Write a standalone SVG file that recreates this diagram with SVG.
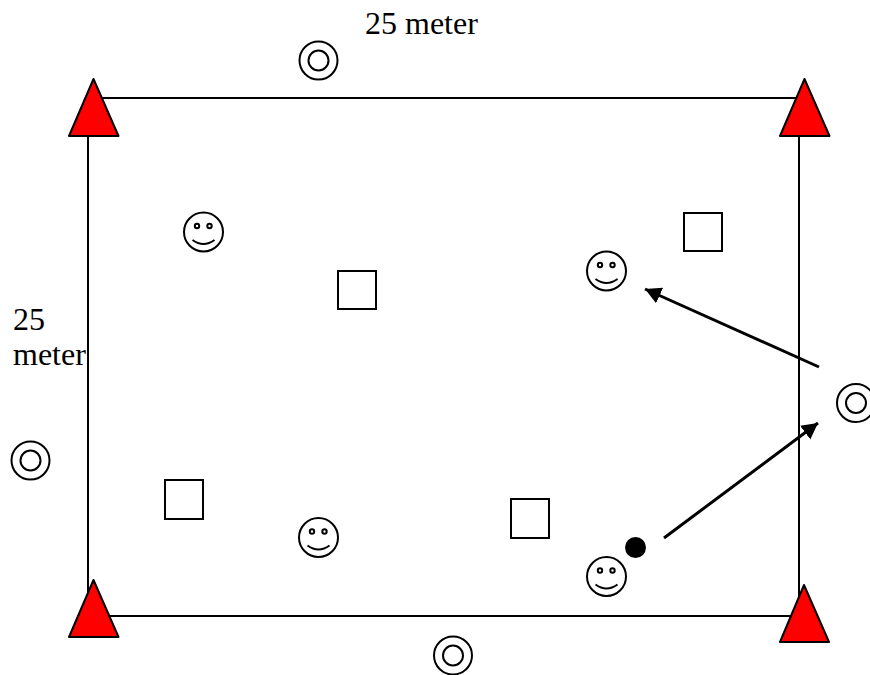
<svg xmlns="http://www.w3.org/2000/svg" width="870" height="675" viewBox="0 0 870 675">
<defs>
<style>
.o{fill:none;stroke:#000;stroke-width:2}
.e{fill:none;stroke:#000;stroke-width:2}
.t{fill:#f00;stroke:#000;stroke-width:2;stroke-linejoin:round}
.s{fill:#fff;stroke:#000;stroke-width:2}
.a{fill:none;stroke:#000;stroke-width:3}
text{font-family:"Liberation Serif","Times New Roman",serif;font-size:32px;fill:#000}
</style>
<g id="smile"><circle class="o" r="19.500"/><circle class="e" cx="-6.500" cy="-6" r="2.200"/><circle class="e" cx="6" cy="-6" r="2.200"/><path class="o" d="M-11 8Q0 16 11 8"/></g>
<g id="target"><circle class="o" r="19"/><circle class="o" r="10"/></g>
<marker id="ah" markerUnits="userSpaceOnUse" markerWidth="17" markerHeight="18" refX="16" refY="8.500" orient="auto"><path d="M0 0L16 8.500L0 17Z" fill="#000"/></marker>
</defs>
<g id="connectors">
<path class="o" d="M88 98H799V616H88Z"/>
<path class="a" d="M819 367L645 289" marker-end="url(#ah)"/>
<path class="a" d="M664 538L818 423" marker-end="url(#ah)"/>
</g>
<g id="tri-tl"><path class="t" d="M93.500 79L118.500 136H69Z"/></g>
<g id="tri-tr"><path class="t" d="M804.500 79L829.500 136H780Z"/></g>
<g id="tri-bl"><path class="t" d="M93.500 580L118.500 637H69Z"/></g>
<g id="tri-br"><path class="t" d="M804 585L829 642H780Z"/></g>
<g id="target-top"><use href="#target" x="318.500" y="60.500"/></g>
<g id="target-right"><use href="#target" x="856" y="403"/></g>
<g id="target-left"><use href="#target" x="30.500" y="460.500"/></g>
<g id="target-bottom"><use href="#target" x="453" y="655.500"/></g>
<g id="smile-1"><use href="#smile" x="203.500" y="232"/></g>
<g id="smile-2"><use href="#smile" x="606.500" y="271"/></g>
<g id="smile-3"><use href="#smile" x="318.500" y="537.500"/></g>
<g id="smile-4"><use href="#smile" x="606.500" y="576.500"/></g>
<g id="square-1"><rect class="s" x="338" y="271" width="38" height="38"/></g>
<g id="square-2"><rect class="s" x="684" y="213" width="38" height="38"/></g>
<g id="square-3"><rect class="s" x="165" y="480" width="38" height="39"/></g>
<g id="square-4"><rect class="s" x="511" y="499" width="38" height="39"/></g>
<g id="ball"><circle cx="635.500" cy="547.500" r="10.500" fill="#000"/></g>
<g id="label-top"><text x="365" y="34">25 meter</text></g>
<g id="label-left"><text x="13" y="330">25</text><text x="13" y="365">meter</text></g>
</svg>
